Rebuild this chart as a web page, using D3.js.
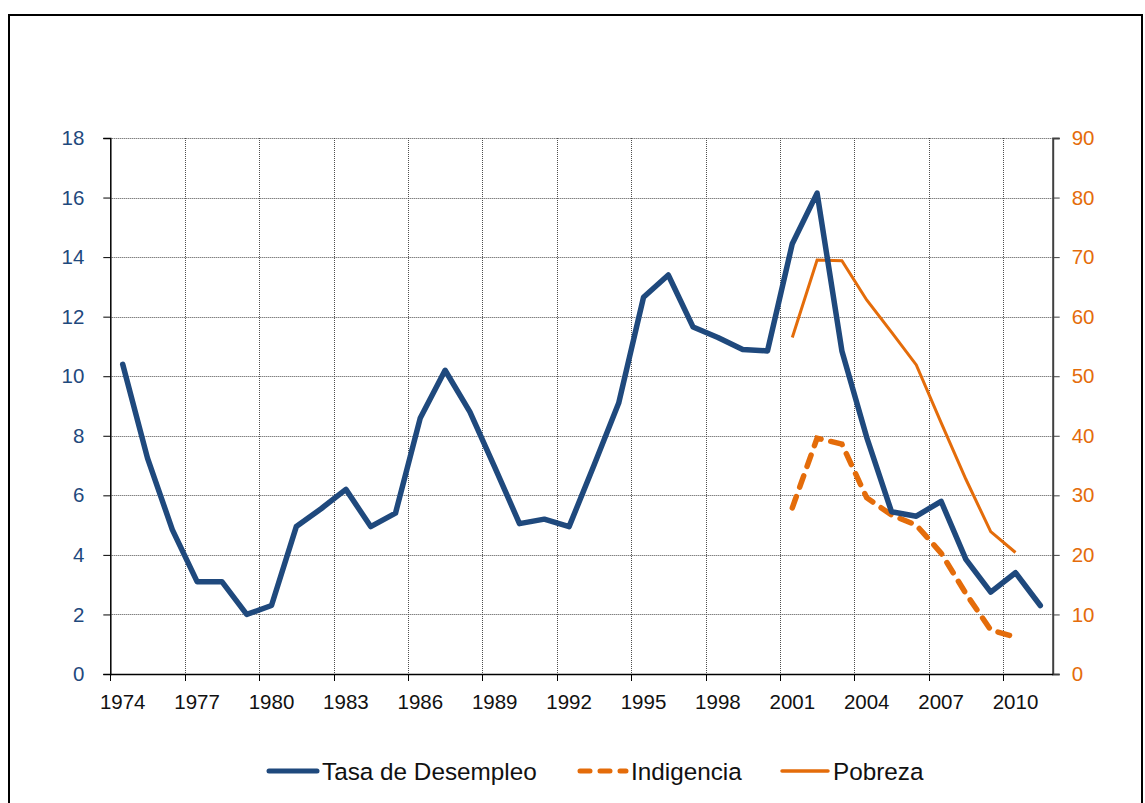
<!DOCTYPE html>
<html>
<head>
<meta charset="utf-8">
<script src="https://cdn.jsdelivr.net/npm/d3@7"></script>
<style>
  html, body { margin: 0; padding: 0; background: #fff; }
  svg { display: block; font-family: "Liberation Sans", Arial, sans-serif; }
</style>
</head>
<body>
<svg id="chart" width="1145" height="803"></svg>
<script>
// ---- data ----
const years = [1974,1975,1976,1977,1978,1979,1980,1981,1982,1983,1984,1985,1986,1987,1988,1989,1990,1991,1992,1993,1994,1995,1996,1997,1998,1999,2000,2001,2002,2003,2004,2005,2006,2007,2008,2009,2010,2011];
const desempleo = [10.4,7.25,4.85,3.1,3.1,2.0,2.3,4.95,5.55,6.2,4.95,5.4,8.6,10.2,8.8,6.95,5.05,5.2,4.95,7.0,9.1,12.65,13.4,11.65,11.3,10.9,10.85,14.45,16.15,10.85,7.95,5.45,5.3,5.8,3.85,2.75,3.4,2.3];
const povertyYears = [2001,2002,2003,2004,2005,2006,2007,2008,2009,2010];
const pobreza = [56.5,69.5,69.4,62.8,57.4,51.9,42.2,32.7,23.9,20.4];
const indigencia = [27.9,39.6,38.6,29.6,26.7,25.0,20.3,13.5,7.4,6.2];
const xTickYears = [1974,1977,1980,1983,1986,1989,1992,1995,1998,2001,2004,2007,2010];
const leftTicks = [0,2,4,6,8,10,12,14,16,18];
const rightTicks = [0,10,20,30,40,50,60,70,80,90];
const seriesNames = ["Tasa de Desempleo","Indigencia","Pobreza"];

const BLUE = "#1f497d", ORANGE = "#e46c0a";

const svg = d3.select("#chart");

// frame
svg.append("rect").attr("x", 9).attr("y", 15).attr("width", 1133).attr("height", 800)
  .attr("fill", "none").attr("stroke", "#000").attr("stroke-width", 2);

const L = 110.3, R = 1052.7, T = 138, B = 674;

const x = d3.scaleBand().domain(years).range([L, R]).padding(0);
const xc = d => x(d) + x.bandwidth() / 2;
const yL = d3.scaleLinear().domain([0, 18]).range([B, T]);
const yR = d3.scaleLinear().domain([0, 90]).range([B, T]);

// grid
const grid = svg.append("g").attr("stroke", "#222").attr("stroke-width", 1)
  .attr("stroke-dasharray", "1,1").attr("opacity", 0.8);
leftTicks.filter(v => v > 0).forEach(v => {
  grid.append("line").attr("x1", L).attr("x2", R)
    .attr("y1", Math.round(yL(v)) + 0.5).attr("y2", Math.round(yL(v)) + 0.5);
});
xTickYears.forEach(yr => {
  if (yr === years[0]) return;
  const gx = Math.round(x(yr)) + 0.5;
  grid.append("line").attr("x1", gx).attr("x2", gx).attr("y1", T).attr("y2", B);
});

// left axis
const axL = svg.append("g").attr("transform", `translate(${L},0)`)
  .call(d3.axisLeft(yL).tickValues(leftTicks).tickSize(7).tickPadding(19));
axL.select(".domain").attr("stroke", "#000").attr("stroke-width", 1.5);
axL.selectAll(".tick line").attr("stroke", "#000");
axL.selectAll("text").attr("fill", BLUE).style("font-size", "20.5px");

// right axis
const axR = svg.append("g").attr("transform", `translate(${R},0)`)
  .call(d3.axisRight(yR).tickValues(rightTicks).tickSize(7).tickPadding(12));
axR.select(".domain").attr("stroke", "#404040").attr("stroke-width", 2);
axR.selectAll(".tick line").attr("stroke", "#404040");
axR.selectAll("text").attr("fill", ORANGE).style("font-size", "20.5px");

// bottom axis
const axB = svg.append("g").attr("transform", `translate(0,${B})`)
  .call(d3.axisBottom(x).tickValues(xTickYears).tickSize(0).tickPadding(20));
axB.select(".domain").attr("stroke", "#000").attr("stroke-width", 1.5);
axB.selectAll("text").attr("fill", "#111").style("font-size", "20.5px");
xTickYears.forEach(yr => {
  const gx = Math.round(x(yr)) + 0.5;
  svg.append("line").attr("x1", gx).attr("x2", gx).attr("y1", B).attr("y2", B + 7)
    .attr("stroke", "#000");
});

// lines
const lineL = d3.line().x((d, i) => xc(years[i])).y(d => yL(d));
const lineR = d3.line().x((d, i) => xc(povertyYears[i])).y(d => yR(d));

svg.append("path").datum(pobreza).attr("d", lineR)
  .attr("fill", "none").attr("stroke", ORANGE).attr("stroke-width", 3);
svg.append("path").datum(indigencia).attr("d", lineR)
  .attr("fill", "none").attr("stroke", ORANGE).attr("stroke-width", 5.5)
  .attr("stroke-dasharray", "12,10").attr("stroke-linecap", "round");
svg.append("path").datum(desempleo).attr("d", lineL)
  .attr("fill", "none").attr("stroke", BLUE).attr("stroke-width", 5.5)
  .attr("stroke-linejoin", "round").attr("stroke-linecap", "round");

// legend
const leg = svg.append("g");
const legItems = [
  {name: seriesNames[0], x1: 269, x2: 317, color: BLUE, w: 5, dash: null, tx: 322},
  {name: seriesNames[1], x1: 580, x2: 626, color: ORANGE, w: 5, dash: "10,10", tx: 631},
  {name: seriesNames[2], x1: 782, x2: 828, color: ORANGE, w: 3.5, dash: null, tx: 833}
];
legItems.forEach(it => {
  const ln = leg.append("line").attr("x1", it.x1).attr("x2", it.x2).attr("y1", 771).attr("y2", 771)
    .attr("stroke", it.color).attr("stroke-width", it.w).attr("stroke-linecap", "round");
  if (it.dash) ln.attr("stroke-dasharray", it.dash);
  leg.append("text").attr("x", it.tx).attr("y", 779.5).text(it.name)
    .attr("fill", "#111").style("font-size", "24.3px");
});
</script>
</body>
</html>
